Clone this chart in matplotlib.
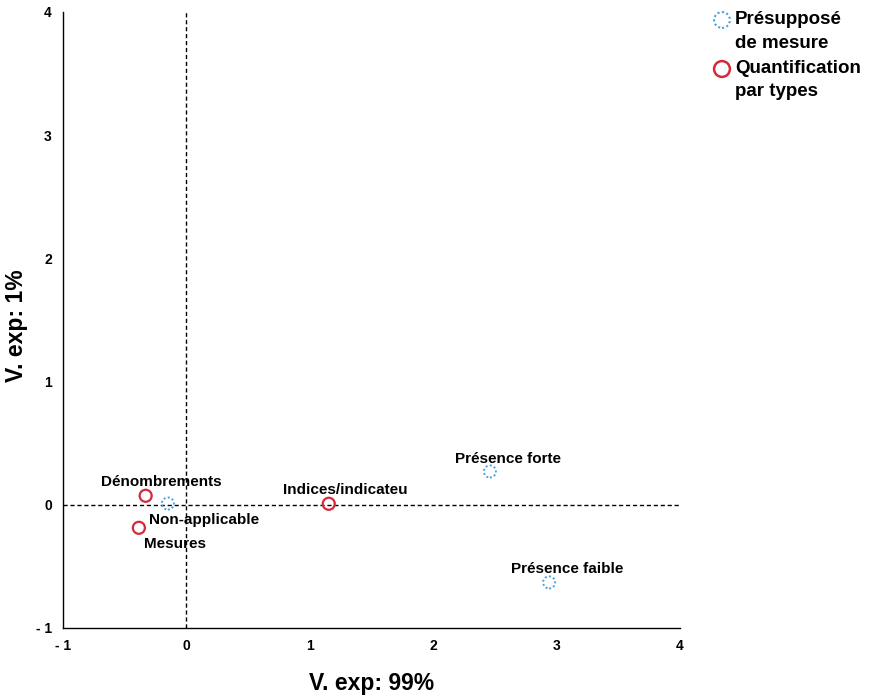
import matplotlib.pyplot as plt

plt.rcParams["font.family"] = ["Liberation Sans", "DejaVu Sans"]
plt.rcParams["font.weight"] = "bold"

# Présupposé de mesure (blue, dotted)
pres_names = ["Non-applicable", "Présence forte", "Présence faible"]
pres_x = [-0.15, 2.46, 2.94]
pres_y = [0.01, 0.27, -0.63]

# Quantification par types (red)
quant_names = ["Dénombrements", "Mesures", "Indices/indicateu"]
quant_x = [-0.33, -0.385, 1.154]
quant_y = [0.073, -0.187, 0.008]

series_labels = ["Présupposé\nde mesure", "Quantification\npar types"]

ticks = [-1, 0, 1, 2, 3, 4]
tick_labels = ["- 1", "0", "1", "2", "3", "4"]

blue = "#4a9fdb"
red = "#d42a3c"

# label offsets in points (dx, dy)
offsets = {
    "Non-applicable": (26, -12),
    "Présence forte": (13, 9),
    "Présence faible": (13, 10),
    "Dénombrements": (11, 10),
    "Mesures": (26, -12),
    "Indices/indicateu": (12, 10),
}

fig = plt.figure(figsize=(8.75, 6.97), dpi=100)
ax = fig.add_axes([0.072, 0.099, 0.705, 0.884])

ax.axhline(0, color="black", linestyle=(0, (3, 2)), linewidth=1, zorder=1)
ax.axvline(0, color="black", linestyle=(0, (3, 2)), linewidth=1, zorder=1)

ax.scatter(pres_x, pres_y, s=75, facecolors="none", edgecolors=blue,
           linewidths=1.4, linestyles=(0, (1, 1.2)), zorder=3)
ax.scatter(quant_x, quant_y, s=75, facecolors="none", edgecolors=red,
           linewidths=1.6, zorder=3)

for names, xs, ys in [(pres_names, pres_x, pres_y), (quant_names, quant_x, quant_y)]:
    for n, x, y in zip(names, xs, ys):
        dx, dy = offsets[n]
        ax.annotate(n, (x, y), xytext=(dx, dy), textcoords="offset points",
                    ha="center", va="center", fontsize=11, fontweight="bold")

ax.set_xlim(-1, 4)
ax.set_ylim(-1, 4)
ax.set_xticks(ticks)
ax.set_xticklabels(tick_labels)
ax.set_yticks(ticks)
ax.set_yticklabels(tick_labels)
ax.tick_params(length=0, labelsize=10, pad=8)
ax.tick_params(axis="y", pad=8)
for lab in ax.get_xticklabels() + ax.get_yticklabels():
    lab.set_fontweight("bold")
ax.spines["top"].set_visible(False)
ax.spines["right"].set_visible(False)
ax.spines["left"].set_linewidth(1)
ax.spines["bottom"].set_linewidth(1)

ax.set_xlabel("V. exp: 99%", fontsize=16.5, fontweight="bold")
ax.set_ylabel("V. exp: 1%", fontsize=16.5, fontweight="bold")
ax.xaxis.set_label_coords(0.5, -0.09)
ax.yaxis.set_label_coords(-0.076, 0.49)
ax.xaxis.label.set_va("center")
ax.yaxis.label.set_va("center")

# legend drawn by hand so that the markers line up with the first text line
leg_ax = fig.add_axes([0, 0, 1, 1], facecolor="none")
leg_ax.set_xlim(0, 875)
leg_ax.set_ylim(697, 0)
leg_ax.axis("off")
leg_ax.scatter([722], [20], s=130, facecolors="none", edgecolors=blue,
               linewidths=1.5, linestyles=(0, (1, 1.2)))
leg_ax.scatter([722], [69], s=130, facecolors="none", edgecolors=red,
               linewidths=1.8)
for lbl, ytop in zip(series_labels, [11, 60]):
    leg_ax.text(735, ytop, lbl, ha="left", va="top", fontsize=13.5,
                fontweight="bold", linespacing=1.5)

fig.savefig("out.png", dpi=100)
